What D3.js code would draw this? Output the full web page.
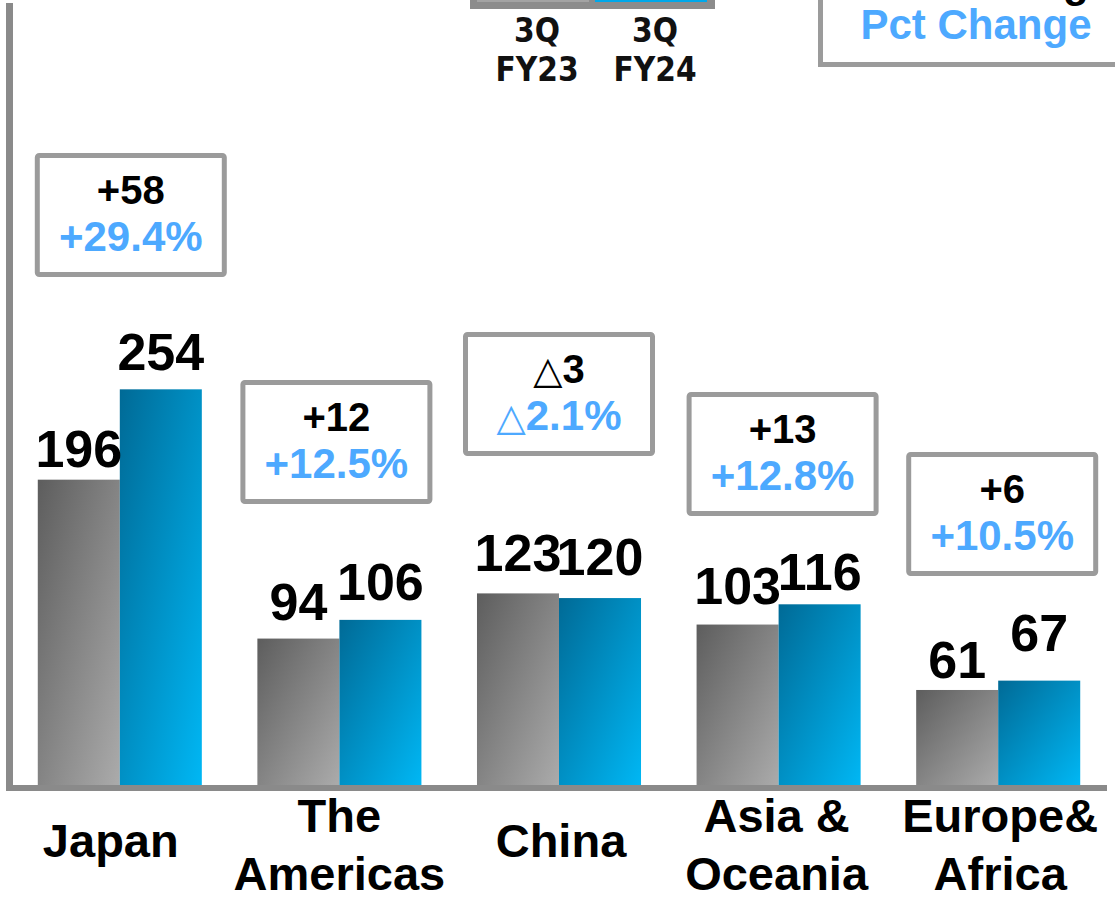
<!DOCTYPE html>
<html>
<head>
<meta charset="utf-8">
<script src="https://cdn.jsdelivr.net/npm/d3@7"></script>
<style>
  html, body { margin: 0; padding: 0; background: #fff; overflow: hidden; }
  svg { display: block; }
</style>
</head>
<body>
<svg id="chart" width="1115" height="901"></svg>
<script>
// ---- data ----
const categories = ["Japan", "The Americas", "China", "Asia & Oceania", "Europe& Africa"];
const categoryLines = [["Japan"], ["The", "Americas"], ["China"], ["Asia &", "Oceania"], ["Europe&", "Africa"]];
const seriesNames = ["3Q FY23", "3Q FY24"];
const fy23 = [196, 94, 123, 103, 61];
const fy24 = [254, 106, 120, 116, 67];
const changeLabels = ["+58", "+12", "△3", "+13", "+6"];
const pctLabels = ["+29.4%", "+12.5%", "△2.1%", "+12.8%", "+10.5%"];

// ---- layout ----
const W = 1115, H = 901;
const calloutTop = [153, 380, 332, 392, 452];      // top edge of each change box
const calloutShift = [11, -3, 0, 4, 4];             // horizontal nudge of each box
const labelShift = [-9, 0, 2, -2, 2];               // horizontal nudge of category names
const valueLift = [[13, 19], [19, 20], [22, 23], [21, 14], [12, 30]]; // label gap above bar
const FONT = "'Liberation Sans', Arial, Helvetica, sans-serif";
const BLUE_TEXT = "#4da9ff";
const AXIS = "#8a8a8a";
const BOX = "#9b9b9b";

const svg = d3.select("#chart");

const x = d3.scaleBand()
  .domain(categories)
  .range([10, 1108])
  .paddingInner(0.253)
  .paddingOuter(0.1265);
const xs = d3.scaleBand().domain([0, 1]).range([0, x.bandwidth()]);
const y = d3.scaleLinear().domain([0, 502]).range([785, 3]);

// ---- gradients ----
const defs = svg.append("defs");
function grad(id, c0, c1) {
  const g = defs.append("linearGradient").attr("id", id)
    .attr("x1", 0).attr("y1", 0).attr("x2", 1).attr("y2", 1);
  g.append("stop").attr("offset", "0%").attr("stop-color", c0);
  g.append("stop").attr("offset", "100%").attr("stop-color", c1);
}
grad("gGray", "#5d5d5d", "#ababab");
grad("gBlue", "#006a96", "#00b7f4");
const fills = ["url(#gGray)", "url(#gBlue)"];

// ---- bars ----
const series = [fy23, fy24];
const groups = svg.append("g").selectAll("g")
  .data(categories)
  .join("g")
  .attr("transform", d => `translate(${x(d)},0)`);

groups.each(function (cat, i) {
  const g = d3.select(this);
  [0, 1].forEach(s => {
    const v = series[s][i];
    g.append("rect")
      .attr("x", xs(s))
      .attr("y", y(v))
      .attr("width", xs.bandwidth())
      .attr("height", y(0) - y(v))
      .attr("fill", fills[s]);
  });
});

// ---- value labels ----
groups.each(function (cat, i) {
  const g = d3.select(this);
  [0, 1].forEach(s => {
    const v = series[s][i];
    g.append("text")
      .attr("x", xs(s) + xs.bandwidth() / 2)
      .attr("y", y(v) - valueLift[i][s])
      .attr("text-anchor", "middle")
      .attr("font-family", FONT)
      .attr("font-weight", 700)
      .attr("font-size", 52)
      .attr("fill", "#000")
      .text(v);
  });
});

// ---- axes ----
const [xr0, xr1] = x.range();
const [yBase, yTop] = y.range();
svg.append("path")
  .attr("d", `M9.5,${yTop}V${yBase + 6}`)
  .attr("stroke", AXIS).attr("stroke-width", 7).attr("fill", "none");
svg.append("path")
  .attr("d", `M6,${yBase + 3}H${xr1 - 1}`)
  .attr("stroke", AXIS).attr("stroke-width", 6).attr("fill", "none");

// ---- category labels ----
groups.each(function (cat, i) {
  const lines = categoryLines[i];
  const t = d3.select(this).append("text")
    .attr("text-anchor", "middle")
    .attr("font-family", FONT)
    .attr("font-weight", 700)
    .attr("font-size", 47)
    .attr("fill", "#000");
  const base = lines.length === 1 ? [857] : [832, 890];
  lines.forEach((ln, k) => {
    t.append("tspan").attr("x", x.bandwidth() / 2 + labelShift[i]).attr("y", base[k]).text(ln);
  });
});

// ---- change callouts ----
function writeLabel(sel, label) {
  if (label.startsWith("△")) {
    sel.append("tspan")
      .attr("font-family", "'DejaVu Sans', sans-serif")
      .attr("font-weight", 400)
      .attr("font-size", 38)
      .text("△");
    sel.append("tspan").text(label.slice(1));
  } else {
    sel.text(label);
  }
}

categories.forEach((cat, i) => {
  const cx = x(cat) + x.bandwidth() / 2 + calloutShift[i];
  const top = calloutTop[i];
  const bw = 192, bh = 124, sw = 5;
  const g = svg.append("g");
  g.append("rect")
    .attr("x", cx - bw / 2 + sw / 2)
    .attr("y", top + sw / 2)
    .attr("width", bw - sw)
    .attr("height", bh - sw)
    .attr("rx", 2)
    .attr("fill", "#fff")
    .attr("stroke", BOX)
    .attr("stroke-width", sw);
  const t1 = g.append("text")
    .attr("x", cx).attr("y", top + 51)
    .attr("text-anchor", "middle")
    .attr("font-family", FONT).attr("font-weight", 700).attr("font-size", 40)
    .attr("fill", "#000");
  writeLabel(t1, changeLabels[i]);
  const t2 = g.append("text")
    .attr("x", cx).attr("y", top + 98)
    .attr("text-anchor", "middle")
    .attr("font-family", FONT).attr("font-weight", 700).attr("font-size", 42)
    .attr("fill", BLUE_TEXT);
  writeLabel(t2, pctLabels[i]);
});

// ---- series legend (top centre) ----
const legend = svg.append("g");
legend.append("rect")
  .attr("x", 470).attr("y", -60).attr("width", 245).attr("height", 69)
  .attr("fill", "#8c8c8c");
const swatchX = [477, 595], swatchW = 112;
seriesNames.forEach((name, s) => {
  legend.append("rect")
    .attr("x", swatchX[s]).attr("y", -60)
    .attr("width", swatchW).attr("height", 62)
    .attr("fill", s === 0 ? "#a3a3a3" : "#00a8ea");
  const parts = name.split(" ");
  const t = legend.append("text")
    .attr("text-anchor", "middle")
    .attr("font-family", "'DejaVu Sans Condensed', 'DejaVu Sans', sans-serif")
    .attr("font-stretch", "condensed")
    .attr("font-weight", 700)
    .attr("font-size", 33)
    .attr("fill", "#111");
  parts.forEach((p, k) => {
    t.append("tspan")
      .attr("x", swatchX[s] + swatchW / 2 + 4)
      .attr("y", [42, 81][k])
      .text(p);
  });
});

// ---- key box (top right) ----
const key = svg.append("g");
key.append("rect")
  .attr("x", 820.5).attr("y", -60)
  .attr("width", 400).attr("height", 124.5)
  .attr("fill", "#fff").attr("stroke", BOX).attr("stroke-width", 5);
key.append("text")
  .attr("x", 1035).attr("y", -3)
  .attr("text-anchor", "middle")
  .attr("font-family", FONT).attr("font-weight", 700).attr("font-size", 42)
  .attr("fill", "#000")
  .text("Change");
key.append("text")
  .attr("x", 976).attr("y", 39)
  .attr("text-anchor", "middle")
  .attr("font-family", FONT).attr("font-weight", 700).attr("font-size", 42)
  .attr("fill", BLUE_TEXT)
  .text("Pct Change");
</script>
</body>
</html>
